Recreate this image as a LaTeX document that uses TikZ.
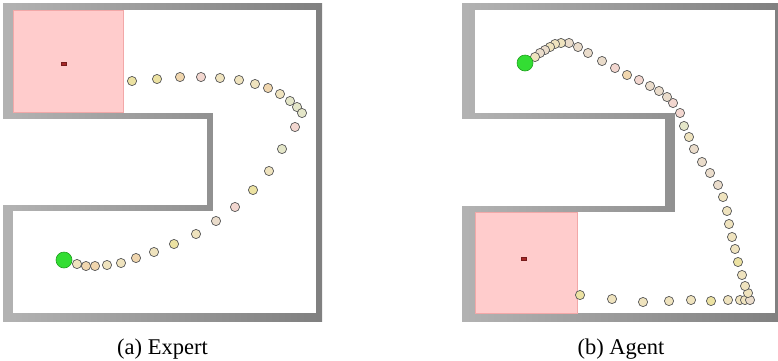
\documentclass[tikz,border=0pt]{standalone}
\usepackage{fontspec}
\setmainfont{Liberation Serif}
\definecolor{goalfill}{HTML}{FFCCCC}
\definecolor{goaledge}{HTML}{F2A8A8}
\definecolor{markred}{HTML}{A82828}
\definecolor{ballfill}{HTML}{33DD33}
\definecolor{balledge}{HTML}{1FA01F}
\definecolor{dA}{HTML}{EFE3BE}
\definecolor{dY}{HTML}{ECE2A2}
\definecolor{dT}{HTML}{F0D6AE}
\definecolor{dP}{HTML}{F2D6CF}
\definecolor{dG}{HTML}{E4E6C8}
\definecolor{dB}{HTML}{EADCCB}
\tikzset{
  wall/.style={left color=black!30, right color=black!50},
  room/.style={fill=white},
  goal/.style={fill=goalfill, draw=goaledge, line width=0.6pt},
  goalmark/.style={fill=markred, draw=markred!70!black, line width=0.3pt},
  ball/.style={fill=ballfill, draw=balledge, line width=0.6pt},
  dot/.style={draw=black!65, line width=0.7pt},
  caption/.style={font=\fontsize{22.5}{26}\selectfont, inner sep=0pt}
}
\begin{document}
\begin{tikzpicture}[x=1pt,y=-1pt]
\useasboundingbox (0,0) rectangle (778,360);
\clip (0,0) rectangle (778,360);
% ---------- (a) Expert ----------
\shade[wall] (3,3) rectangle (322,321);
\fill[room] (13,10) rectangle (316,113);
\fill[room] (213,10) rectangle (316,313);
\fill[room] (13,211) rectangle (316,313);
\fill[room] (0,119) rectangle (207,205);
\draw[goal] (13,10) rectangle (123,112);
\draw[goalmark] (61.5,62.5) rectangle (66.5,65.5);
\foreach \x/\y/\c in {132/81/dY,157/79/dY,180/77/dT,201/77/dP,220/78/dA,239/80/dA,255/84/dA,268/88/dT,280/94/dA,290/101/dG,297/107/dG,302/113/dG,295/127/dP,282/149/dG,269/171/dA,253/190/dY,235/207/dP,216/221/dB,196/234/dA,174/244/dY,154/252/dA,136/258/dT,121/263/dA,107/265/dA,95/266/dT,86/266/dT,77/264/dA}
  \filldraw[dot, fill=\c] (\x,\y) circle (4.6);
\draw[ball] (64,260) circle (8);
\node[caption] (capa) at (162.5,349) {(a) Expert};
% ---------- (b) Agent ----------
\shade[wall] (462,3) rectangle (784,321);
\fill[room] (475,10) rectangle (775,113);
\fill[room] (675,10) rectangle (775,313);
\fill[room] (475,212) rectangle (775,313);
\fill[room] (455,119) rectangle (665,206);
\draw[goal] (475,212) rectangle (577,313);
\draw[goalmark] (521.5,257.5) rectangle (526.5,260.5);
\foreach \x/\y/\c in {580/295/dY,612/299/dA,643/302/dA,669/301/dA,691/300/dA,711/301/dY,728/300/dA,740/300/dA,745/300/dA,750/300/dB,748/293/dA,745/286/dA,742/275/dA,738/262/dY,735/249/dA,732/237/dA,729/224/dA,727/211/dA,723/197/dA,718/185/dB,710/173/dB,702/162/dB,694/149/dB,689/137/dA,684/126/dG,680/113/dP,673/103/dP,667/97/dB,659/91/dB,650/86/dB,639/80/dP,627/75/dT,615/68/dP,602/61/dB,588/53/dB,578/47/dB,569/43/dB,561/43/dA,555/44/dA,550/47/dA,545/50/dB,540/53/dB,535/57/dA}
  \filldraw[dot, fill=\c] (\x,\y) circle (4.6);
\draw[ball] (525,63) circle (8);
\node[caption] (capb) at (621,349) {(b) Agent};
\end{tikzpicture}
\end{document}
